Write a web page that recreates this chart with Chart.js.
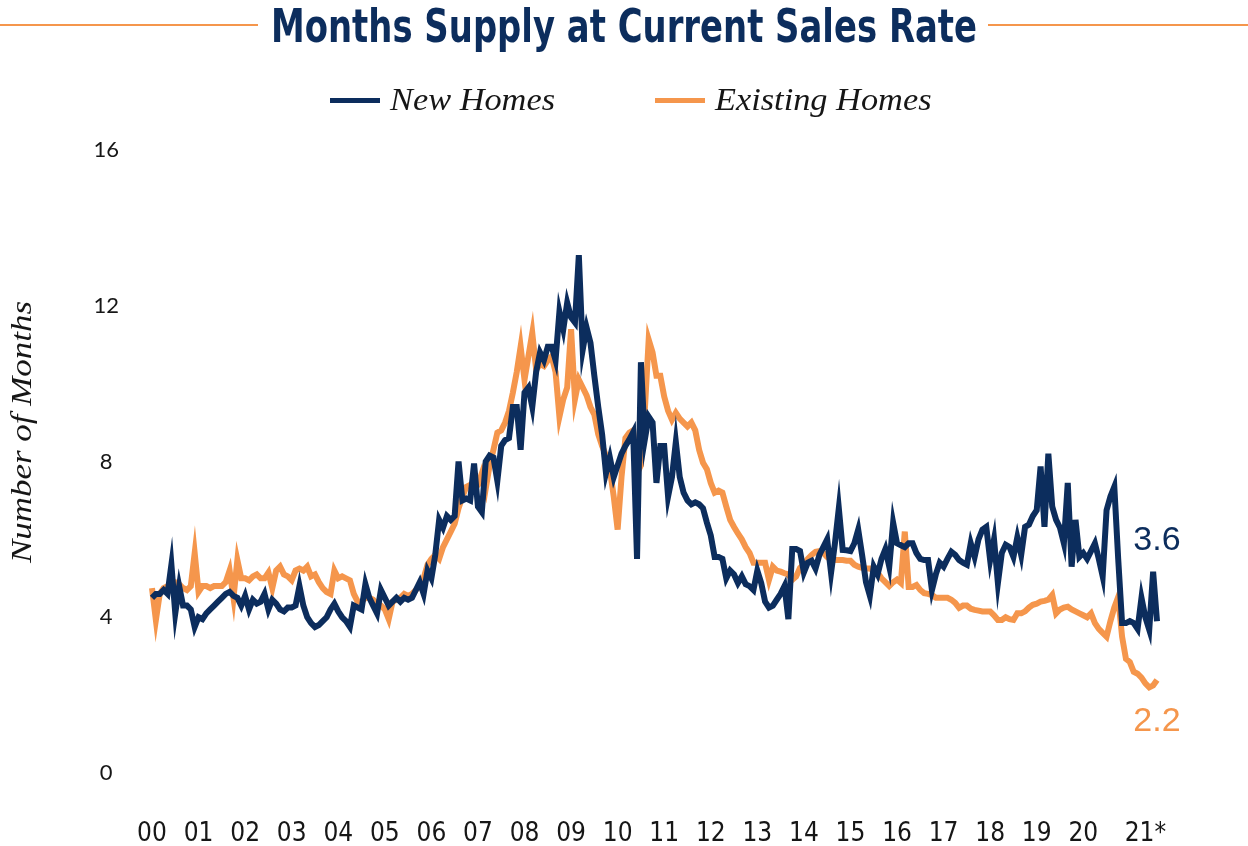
<!DOCTYPE html>
<html><head><meta charset="utf-8">
<script src="https://cdn.jsdelivr.net/npm/chart.js@4.4.1/dist/chart.umd.min.js"></script>
<style>html,body{margin:0;padding:0;background:#fff;}#wrap{width:1248px;height:846px;}</style>
</head><body><div id="wrap"><canvas id="c" width="1248" height="846"></canvas></div>
<script>
const yearLabels = ['00','01','02','03','04','05','06','07','08','09','10','11','12','13','14','15','16','17','18','19','20','21*'];
const seriesNames = ['New Homes','Existing Homes'];
const endLabels = ['3.6','2.2'];
const yTicks = [0,4,8,12,16];
const newHomes = [
4.5,4.6,4.6,4.7,4.6,5.35,4.1,4.8,4.3,4.3,4.2,3.75,
4.0,3.95,4.1,4.2,4.3,4.4,4.5,4.6,4.65,4.55,4.5,4.3,
4.55,4.2,4.45,4.35,4.4,4.6,4.2,4.45,4.35,4.2,4.15,4.25,
4.25,4.3,4.8,4.3,4.0,3.85,3.75,3.8,3.9,4.0,4.2,4.35,
4.15,4.0,3.9,3.75,4.3,4.25,4.2,4.85,4.5,4.3,4.1,4.7,
4.5,4.3,4.4,4.5,4.4,4.5,4.45,4.5,4.7,4.9,4.6,5.2,
5.0,5.6,6.5,6.3,6.6,6.5,6.6,8.0,7.0,7.05,7.0,7.95,
6.84,6.7,8.0,8.15,8.1,7.5,8.4,8.55,8.6,9.4,9.4,8.3,
9.77,9.9,9.4,10.3,10.8,10.6,10.95,10.95,10.6,11.85,11.4,12.08,
11.7,11.57,13.3,10.87,11.44,11.05,10.2,9.4,8.7,7.7,8.1,7.6,
7.9,8.2,8.4,8.56,8.75,5.5,10.55,8.56,9.15,9.0,7.45,8.4,
8.4,7.1,7.6,8.5,7.6,7.2,7.0,6.9,6.95,6.9,6.8,6.43,
6.1,5.55,5.55,5.5,5.0,5.2,5.1,4.88,5.05,4.85,4.8,4.7,
5.2,4.88,4.4,4.25,4.3,4.45,4.6,4.8,3.95,5.75,5.75,5.7,
5.15,5.4,5.45,5.25,5.6,5.8,6.0,5.14,5.9,6.8,5.73,5.72,
5.7,5.9,6.25,5.6,4.9,4.55,5.3,5.1,5.5,5.75,5.3,6.43,
5.9,5.85,5.8,5.9,5.9,5.65,5.5,5.47,5.47,4.7,5.1,5.4,
5.3,5.5,5.68,5.6,5.47,5.4,5.35,5.9,5.55,6.0,6.25,6.32,
5.47,6.0,4.88,5.65,5.86,5.8,5.55,6.05,5.6,6.32,6.38,6.6,
6.75,7.87,6.32,8.2,6.84,6.5,6.3,5.9,7.45,5.3,6.5,5.55,
5.65,5.5,5.7,5.9,5.5,5.05,6.75,7.1,7.35,5.5,3.85,3.85,
3.9,3.85,3.7,4.5,4.0,3.68,5.17,3.9
];
const existingHomes = [
4.75,3.93,4.6,4.75,4.8,4.9,4.9,4.85,4.75,4.7,4.8,5.65,
4.65,4.8,4.8,4.75,4.8,4.8,4.8,4.9,5.2,4.5,5.47,5.0,
5.0,4.95,5.05,5.1,5.0,5.0,5.15,4.75,5.2,5.3,5.1,5.05,
4.95,5.2,5.25,5.2,5.3,5.05,5.1,4.9,4.75,4.65,4.6,5.2,
5.0,5.05,5.0,4.95,4.6,4.4,4.4,4.5,4.5,4.45,4.35,4.3,
4.2,3.95,4.4,4.45,4.5,4.6,4.55,4.6,4.7,4.8,5.0,5.35,
5.5,5.6,5.5,5.8,6.0,6.2,6.4,6.8,7.1,7.35,7.4,7.3,
7.4,7.7,7.3,7.9,8.3,8.74,8.8,9.0,9.3,9.77,10.3,10.95,
10.1,10.7,11.3,10.36,10.5,10.45,10.6,10.7,10.3,9.15,9.6,9.9,
11.4,9.6,10.1,9.9,9.7,9.4,9.2,8.7,8.4,8.15,7.8,7.1,
6.25,7.6,8.6,8.74,8.8,7.7,7.9,9.3,11.13,10.8,10.2,10.2,
9.67,9.3,9.07,9.25,9.1,9.0,8.9,9.0,8.8,8.3,7.97,7.8,
7.45,7.2,7.25,7.2,6.84,6.5,6.32,6.15,6.0,5.8,5.65,5.4,
5.4,5.4,5.4,4.96,5.3,5.2,5.17,5.13,5.1,4.96,5.05,5.27,
5.35,5.5,5.6,5.68,5.7,5.65,5.55,5.47,5.47,5.47,5.47,5.45,
5.45,5.35,5.3,5.27,5.25,5.25,5.2,5.14,5.0,4.9,4.8,4.9,
4.97,4.88,6.2,4.78,4.78,4.83,4.7,4.62,4.6,4.57,4.5,4.5,
4.5,4.5,4.45,4.37,4.24,4.3,4.3,4.22,4.19,4.17,4.15,4.15,
4.15,4.05,3.93,3.93,4.0,3.95,3.93,4.1,4.1,4.15,4.25,4.32,
4.35,4.4,4.42,4.45,4.57,4.1,4.2,4.25,4.27,4.2,4.15,4.1,
4.05,4.0,4.1,3.85,3.7,3.6,3.5,3.9,4.25,4.52,3.5,2.93,
2.85,2.6,2.55,2.45,2.3,2.2,2.25,2.39
];

const NAVY = '#0c2d5d';
const ORANGE = '#f5964c';
const TEXT = '#161616';
const NARROW = '"Liberation Sans Narrow","Arial Narrow","DejaVu Sans Condensed","Liberation Sans",sans-serif';
const SERIF = '"Liberation Serif","DejaVu Serif",serif';

// month categories built from the year labels
const monthLabels = newHomes.map((v, i) => yearLabels[Math.floor(i / 12)] + '-' + String(i % 12 + 1).padStart(2, '0'));
// index of each year label on the month axis (partial last year label centred on its months)
const yearTickIndex = yearLabels.map((lab, k) => (k < yearLabels.length - 1 ? k * 12 : k * 12 + 4));

function fitText(ctx, text, x, y, targetW, align) {
  const w = ctx.measureText(text).width;
  const s = targetW / w;
  ctx.save();
  ctx.translate(x, y);
  ctx.scale(s, 1);
  ctx.textAlign = align;
  ctx.fillText(text, 0, 0);
  ctx.restore();
}

const decor = {
  id: 'decor',
  afterDraw(chart) {
    const ctx = chart.ctx;
    const ys = chart.scales.y;
    const area = chart.chartArea;
    ctx.save();
    // title rules
    ctx.strokeStyle = ORANGE;
    ctx.lineWidth = 2;
    ctx.beginPath();
    ctx.moveTo(0, 25); ctx.lineTo(258, 25);
    ctx.moveTo(988, 25); ctx.lineTo(1248, 25);
    ctx.stroke();
    // title
    ctx.fillStyle = NAVY;
    ctx.font = 'bold 46px ' + NARROW;
    ctx.textBaseline = 'alphabetic';
    fitText(ctx, 'Months Supply at Current Sales Rate', 624, 42, 706, 'center');
    // legend
    ctx.font = 'italic 32px ' + SERIF;
    const sc = 165 / ctx.measureText(seriesNames[0]).width;
    const items = [[NAVY, 330, seriesNames[0]], [ORANGE, 655, seriesNames[1]]];
    items.forEach(([col, x0, txt]) => {
      ctx.fillStyle = col;
      ctx.fillRect(x0, 98, 50, 5);
      ctx.fillStyle = TEXT;
      ctx.save();
      ctx.translate(x0 + 60, 110);
      ctx.scale(sc, 1);
      ctx.textAlign = 'left';
      ctx.fillText(txt, 0, 0);
      ctx.restore();
    });
    // y axis title
    ctx.save();
    ctx.translate(31, 432);
    ctx.rotate(-Math.PI / 2);
    ctx.fillStyle = TEXT;
    ctx.font = 'italic 30px ' + SERIF;
    ctx.textBaseline = 'alphabetic';
    fitText(ctx, 'Number of Months', 0, 0, 262, 'center');
    ctx.restore();
    // end labels
    ctx.font = '34px "Liberation Sans",Arial,sans-serif';
    ctx.textAlign = 'center';
    ctx.textBaseline = 'middle';
    ctx.fillStyle = NAVY;
    ctx.fillText(endLabels[0], area.right, ys.getPixelForValue(5.98));
    ctx.fillStyle = ORANGE;
    ctx.fillText(endLabels[1], area.right, ys.getPixelForValue(1.33));
    ctx.restore();
  }
};

new Chart(document.getElementById('c'), {
  type: 'line',
  data: {
    labels: monthLabels,
    datasets: [
      { label: seriesNames[0], data: newHomes, borderColor: NAVY, backgroundColor: NAVY, borderWidth: 6, pointRadius: 0, tension: 0, fill: false },
      { label: seriesNames[1], data: existingHomes, borderColor: ORANGE, backgroundColor: ORANGE, borderWidth: 6, pointRadius: 0, tension: 0, fill: false }
    ]
  },
  options: {
    responsive: false,
    animation: false,
    layout: { padding: { left: 0, right: 91, top: 150, bottom: 0 } },
    plugins: { legend: { display: false }, title: { display: false }, tooltip: { enabled: false } },
    scales: {
      x: {
        type: 'category',
        grid: { display: false, drawTicks: false },
        border: { display: false },
        ticks: {
          autoSkip: false, maxRotation: 0, minRotation: 0, padding: 46,
          color: TEXT, font: { family: NARROW, size: 26 },
          callback: (v, i) => {
            const k = yearTickIndex.indexOf(i);
            return k >= 0 ? yearLabels[k] : null;
          }
        },
        afterFit: s => { s.height = 73; }
      },
      y: {
        min: yTicks[0], max: yTicks[yTicks.length - 1],
        grid: { display: false, drawTicks: false },
        border: { display: false },
        afterBuildTicks: s => { s.ticks = yTicks.map(v => ({ value: v })); },
        ticks: { crossAlign: 'center', padding: 33, color: TEXT, font: { family: 'Lato,"Open Sans",sans-serif', size: 22 } },
        afterFit: s => { s.width = 152; }
      }
    }
  },
  plugins: [decor]
});
</script>
</body></html>
